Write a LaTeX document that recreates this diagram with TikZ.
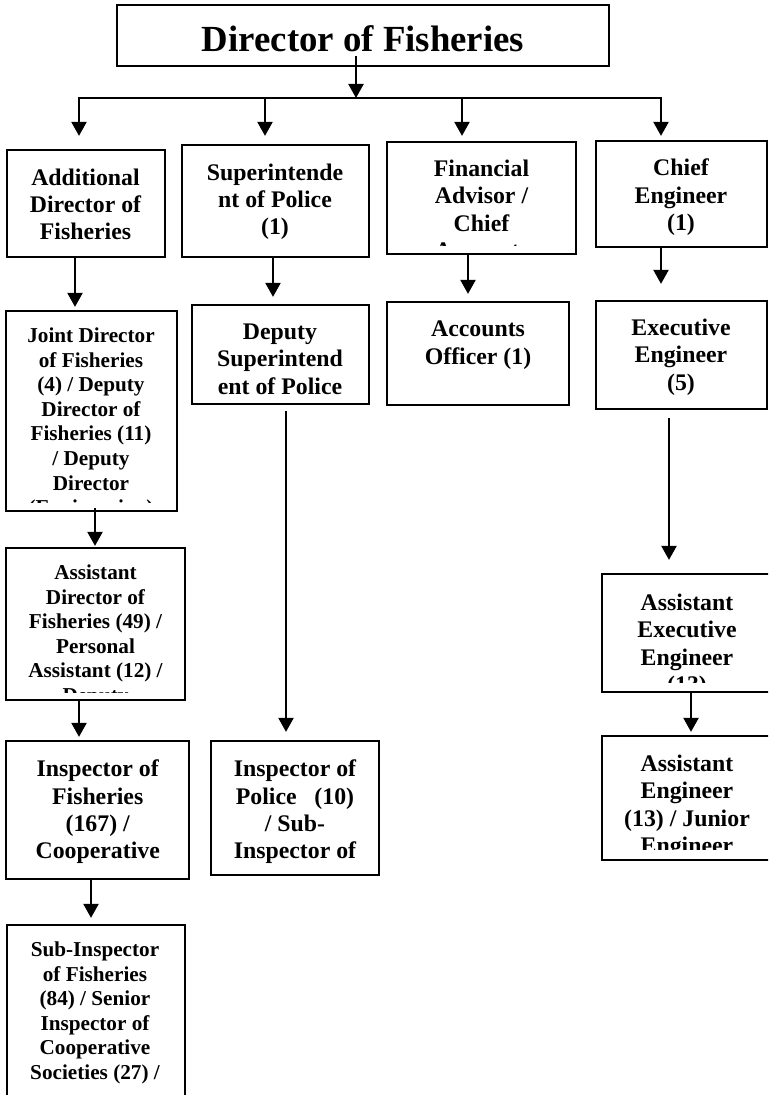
\documentclass[tikz,border=0pt]{standalone}
\usepackage{fontspec}
\setmainfont{Liberation Serif}
\usetikzlibrary{arrows.meta}
\tikzset{
    post/.style = {draw, rectangle, line width=1.7pt, inner sep=0pt},
    txt/.style = {anchor=north, align=center, inner sep=0pt,
        font=\bfseries\fontsize{17.85pt}{20.55pt}\selectfont},
    txtsmall/.style = {txt, font=\bfseries\fontsize{15.9pt}{18.45pt}\selectfont},
    arrow/.style = {draw, line width=1.7pt, -{Triangle[width=11.25pt,length=10.5pt]}}
}
\begin{document}
\begin{tikzpicture}[x=0.75pt,y=-0.75pt]
    \useasboundingbox (0,0) rectangle (768,1095);
    \clip (0,0) rectangle (768,1095);
% boxes
    \node[post, minimum width=369pt, minimum height=45.75pt] (title) at (363,35.5) {};
    \node[post, minimum width=118.5pt, minimum height=80.25pt] (addl) at (86,203.5) {};
    \node[post, minimum width=140.25pt, minimum height=84pt] (supt) at (275.5,201) {};
    \node[post, minimum width=141.75pt, minimum height=84pt] (fin) at (481.5,198) {};
    \node[post, minimum width=128.25pt, minimum height=79.5pt] (chief) at (681.5,194) {};
    \node[post, minimum width=128.25pt, minimum height=150pt] (joint) at (91.5,411) {};
    \node[post, minimum width=132.75pt, minimum height=74.25pt] (dsp) at (280.5,354.5) {};
    \node[post, minimum width=136.5pt, minimum height=77.25pt] (acc) at (478,353.5) {};
    \node[post, minimum width=128.25pt, minimum height=81pt] (exec) at (681.5,355) {};
    \node[post, minimum width=134.25pt, minimum height=114pt] (adir) at (95.5,624) {};
    \node[post, minimum width=127.5pt, minimum height=88.5pt] (aexec) at (687,633) {};
    \node[post, minimum width=127.5pt, minimum height=93pt] (aeng) at (687,798) {};
    \node[post, minimum width=137.25pt, minimum height=103.5pt] (inspf) at (97.5,810) {};
    \node[post, minimum width=126pt, minimum height=100.5pt] (inspp) at (295,808) {};
    \node[post, minimum width=133.5pt, minimum height=138.75pt] (subinsp) at (96,1017.5) {};
% texts
    \node[txt, font=\bfseries\fontsize{27.6pt}{32pt}\selectfont] (titleT) at (363,25.5) {Director of Fisheries};
    \node[txt] (addlT) at (85.5,168.4) {Additional\\Director of\\Fisheries};
    \node[txt] (suptT) at (275,163.4) {Superintende\\nt of Police\\(1)};
    \begin{scope}
        \clip (387,142) rectangle (576,245);
        \node[txt] (finT) at (481.5,159.7) {Financial\\Advisor /\\Chief\\Accounts};
    \end{scope}
    \node[txt] (chiefT) at (681,158.7) {Chief\\Engineer\\(1)};
    \begin{scope}
        \clip (6,311) rectangle (177,502);
        \node[txtsmall] (jointT) at (91,327.5) {Joint Director\\of Fisheries\\(4) / Deputy\\Director of\\Fisheries (11)\\/ Deputy\\Director\\(Engineering)};
    \end{scope}
    \node[txt] (dspT) at (280,323.7) {Deputy\\Superintend\\ent of Police};
    \node[txt] (accT) at (478,320.7) {Accounts\\Officer (1)};
    \node[txt] (execT) at (681,318.7) {Executive\\Engineer\\(5)};
    \begin{scope}
        \clip (6,548) rectangle (185,692);
        \node[txtsmall] (adirT) at (95.5,564.5) {Assistant\\Director of\\Fisheries (49) /\\Personal\\Assistant (12) /\\Deputy};
    \end{scope}
    \begin{scope}
        \clip (602,574) rectangle (772,682);
        \node[txt] (aexecT) at (687,593.7) {Assistant\\Executive\\Engineer\\(13)};
    \end{scope}
    \begin{scope}
        \clip (602,736) rectangle (772,849);
        \node[txt] (aengT) at (687,754.7) {Assistant\\Engineer\\(13) / Junior\\Engineer};
    \end{scope}
    \node[txt] (inspfT) at (97.7,759.7) {Inspector of\\Fisheries\\(167) /\\Cooperative};
    \node[txt] (insppT) at (295,759.7) {Inspector of\\Police\ \ \ (10)\\/ Sub-\\Inspector of};
    \node[txtsmall] (subinspT) at (95,941.5) {Sub-Inspector\\of Fisheries\\(84) / Senior\\Inspector of\\Cooperative\\Societies (27) /};
% connectors
    \coordinate (busL) at (78,98);
    \coordinate (busR) at (662,98);
    \draw[line width=1.7pt] (busL) -- (busR);
    \draw[arrow, shorten <=-8.25pt] (356,0 |- title.south) -- (356,0 |- busL);
    \draw[arrow, shorten >=9.75pt] (79,0 |- busL) -- (79,0 |- addl.north);
    \draw[arrow, shorten >=6pt] (265,0 |- busL) -- (265,0 |- supt.north);
    \draw[arrow, shorten >=3.75pt] (462,0 |- busL) -- (462,0 |- fin.north);
    \draw[arrow, shorten >=3pt] (661,0 |- busL) -- (661,0 |- chief.north);
    \draw[arrow, shorten >=2.25pt] (75,0 |- addl.south) -- (75,0 |- joint.north);
    \draw[arrow, shorten >=5.25pt] (273,0 |- supt.south) -- (273,0 |- dsp.north);
    \draw[arrow, shorten >=5.25pt] (468,0 |- fin.south) -- (468,0 |- acc.north);
    \draw[arrow, shorten >=12pt] (661,0 |- chief.south) -- (661,0 |- exec.north);
    \draw[arrow, shorten <=-3pt, shorten >=0.75pt] (95,0 |- joint.south) -- (95,0 |- adir.north);
    \draw[arrow, shorten <=4.5pt, shorten >=6pt] (286,0 |- dsp.south) -- (286,0 |- inspp.north);
    \draw[arrow, shorten <=6pt, shorten >=9.75pt] (669,0 |- exec.south) -- (669,0 |- aexec.north);
    \draw[arrow, shorten >=2.25pt] (79,0 |- adir.south) -- (79,0 |- inspf.north);
    \draw[arrow, shorten >=2.25pt] (691,0 |- aexec.south) -- (691,0 |- aeng.north);
    \draw[arrow, shorten >=4.5pt] (91,0 |- inspf.south) -- (91,0 |- subinsp.north);
\end{tikzpicture}
\end{document}
